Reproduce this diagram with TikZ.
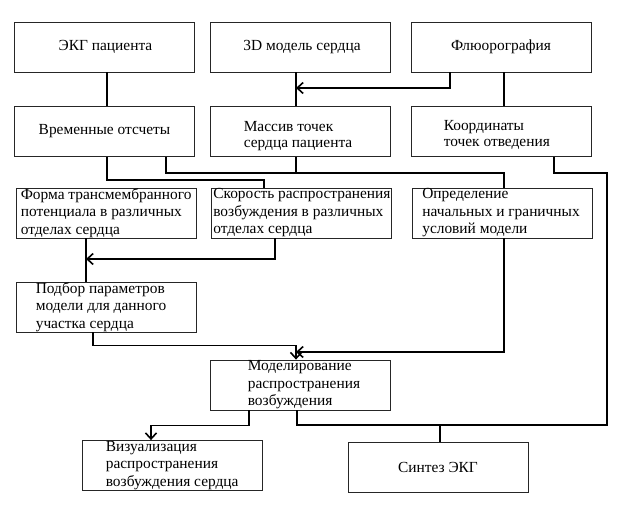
\documentclass[tikz,border=0pt]{standalone}
\usepackage{fontspec}
\setmainfont{Liberation Serif}
\usetikzlibrary{arrows.meta}
\tikzset{
  box/.style={draw=black!85, line width=0.8pt, minimum width=180pt, minimum height=50pt, inner sep=0pt},
  txt/.style={inner sep=0pt, align=left, font=\fontsize{15.4pt}{17.5pt}\selectfont},
  txttwo/.style={txt, font=\fontsize{15.4pt}{16pt}\selectfont},
  conn/.style={line width=1.8pt, line join=miter},
  arr/.style={conn, -{Straight Barb[length=6pt,width=11pt,line width=1.6pt]}}
}
\begin{document}
\begin{tikzpicture}[x=1pt,y=-1pt]
\useasboundingbox (0,0) rectangle (624,508);
% boxes
\node[box] (ekg) at (104.5,47) {};
\node[box] (m3d) at (300,47) {};
\node[box] (fluoro) at (501,47) {};
\node[box] (vrem) at (104.5,131.5) {};
\node[box] (massiv) at (300,131.5) {};
\node[box] (koord) at (501,131.5) {};
\node[box] (forma) at (106,213) {};
\node[box] (skor) at (301.5,213) {};
\node[box] (opred) at (502.5,213) {};
\node[box] (podbor) at (106,307) {};
\node[box] (model) at (300,385) {};
\node[box] (vis) at (172,465.5) {};
\node[box] (sintez) at (438,467) {};
% texts
\node[txt] (ekgT) at ([xshift=1pt]ekg.center) {ЭКГ пациента};
\node[txt] (m3dT) at ([xshift=2pt]m3d.center) {3D модель сердца};
\node[txt] (fluoroT) at (fluoro.center) {Флюорография};
\node[txt] (vremT) at (vrem.center) {Временные отсчеты};
\node[txttwo, anchor=west] (massivT) at ([xshift=34pt,yshift=-5pt]massiv.west) {Массив точек\\сердца пациента};
\node[txttwo, anchor=west] (koordT) at ([xshift=33pt,yshift=-3pt]koord.west) {Координаты\\точек отведения};
\node[txt, anchor=west] (formaT) at ([xshift=5pt]forma.west) {Форма трансмембранного\\потенциала в различных\\отделах сердца};
\node[txt, anchor=west] (skorT) at ([xshift=2pt]skor.west) {Скорость распространения\\возбуждения в различных\\отделах сердца};
\node[txt, anchor=west] (opredT) at ([xshift=10pt]opred.west) {Определение\\начальных и граничных\\условий модели};
\node[txt, anchor=west] (podborT) at ([xshift=20pt]podbor.west) {Подбор параметров\\модели для данного\\участка сердца};
\node[txt, anchor=west] (modelT) at ([xshift=38pt]model.west) {Моделирование\\распространения\\возбуждения};
\node[txt, anchor=west] (visT) at ([xshift=24pt]vis.west) {Визуализация\\распространения\\возбуждения сердца};
\node[txt] (sintezT) at (sintez.center) {Синтез ЭКГ};
% helper coordinates
\coordinate (j3d) at (296,88);
\coordinate (j1) at (86,259);
\coordinate (j2) at (296,352);
\coordinate (rc) at (607,425);
% connectors
\draw[conn] ([xshift=2.5pt]ekg.south) -- ([xshift=2.5pt]vrem.north);
\draw[conn] ([xshift=-4pt]m3d.south) -- ([xshift=-4pt]massiv.north);
\draw[arr] ([xshift=-51pt]fluoro.south) |- (j3d);
\draw[conn] ([xshift=3pt]fluoro.south) -- ([xshift=3pt]koord.north);
\draw[conn] ([xshift=2.5pt]vrem.south) -- ++(0,23) -| ([xshift=-37.5pt]skor.north);
\draw[conn] ([xshift=61.5pt]vrem.south) -- ++(0,16) -| ([xshift=1.5pt]opred.north);
\draw[conn] ([xshift=-4pt]massiv.south) -- ++(0,16);
\draw[conn] ([xshift=53pt]koord.south) -- ++(0,16) -| (rc) -- ([xshift=-3pt]model.south |- rc) -- ([xshift=-3pt]model.south);
\draw[conn] ([xshift=2pt]sintez.north) -- ([xshift=2pt]sintez.north |- rc);
\draw[conn] ([xshift=-20pt]forma.south) -- ([xshift=-20pt]podbor.north);
\draw[arr] ([xshift=-26.5pt]skor.south) |- (j1);
\draw[arr] ([xshift=-13pt]podbor.south) -- ++(0,13) -| ([xshift=-4pt]model.north);
\draw[arr] ([xshift=1.5pt]opred.south) |- (j2);
\draw[arr] ([xshift=-51pt]model.south) -- ++(0,15) -| ([xshift=-21pt]vis.north);
\end{tikzpicture}
\end{document}
